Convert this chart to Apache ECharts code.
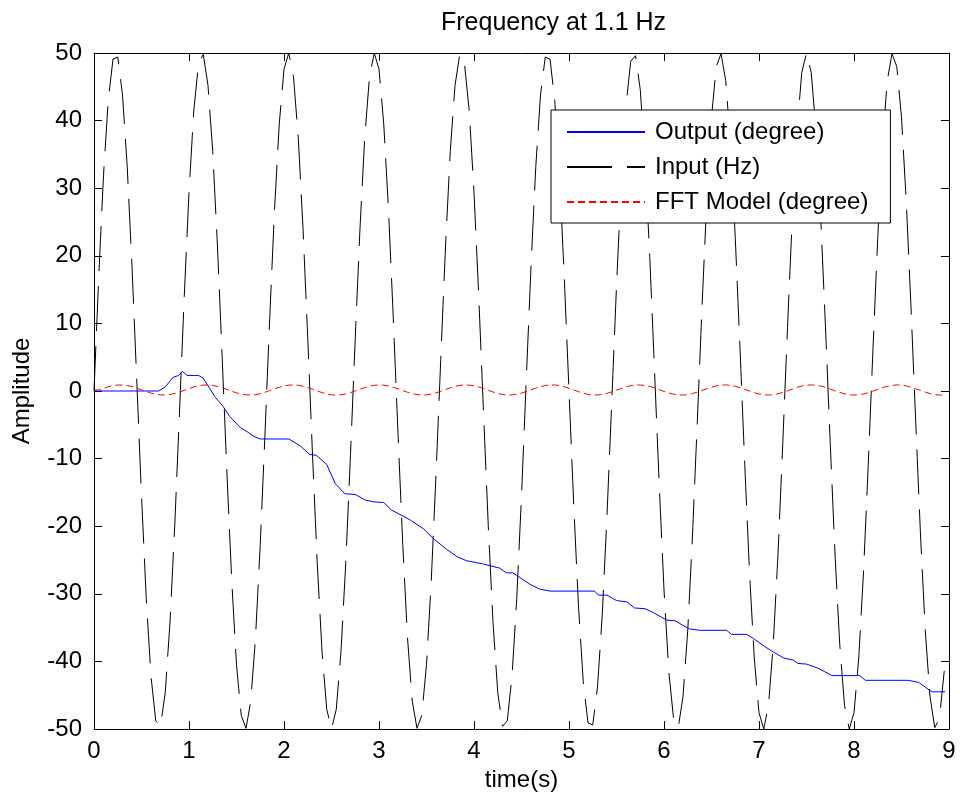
<!DOCTYPE html>
<html>
<head>
<meta charset="utf-8">
<title>Frequency at 1.1 Hz</title>
<script src="https://cdn.jsdelivr.net/npm/echarts@6/dist/echarts.min.js"></script>
<style>
  html, body { margin: 0; padding: 0; background: #fff; }
  #chart { width: 960px; height: 798px; }
</style>
</head>
<body>
<div id="chart"></div>
<script>
// sample step of the recorded signals (s)
const dt = 0.05

// input sine
const inputVals = [
  0, 16.9, 31.9, 43.0, 49.1, 49.4, 43.8, 33.1, 18.4, 1.6,
  -15.5, -30.7, -42.2, -48.8, -49.6, -44.6, -34.2, -19.9, -3.1, 14.0,
  29.4, 41.4, 48.4, 49.8, 45.2, 35.4, 21.3, 4.7, -12.4, -28.1,
  -40.5, -48.0, -49.9, -45.9, -36.5, -22.7, -6.3, 10.9, 26.8, 39.5,
  47.6, 50.0, 46.5, 37.5, 24.1, 7.8, -9.4, -25.5, -38.5, -47.1,
  -50.0, -47.1, -38.5, -25.5, -9.4, 7.8, 24.1, 37.5, 46.5, 50.0,
  47.6, 39.5, 26.8, 10.9, -6.3, -22.7, -36.5, -45.9, -49.9, -48.0,
  -40.5, -28.1, -12.4, 4.7, 21.3, 35.4, 45.2, 49.8, 48.4, 41.4,
  29.4, 14.0, -3.1, -19.9, -34.2, -44.6, -49.6, -48.8, -42.2, -30.7,
  -15.5, 1.6, 18.4, 33.1, 43.8, 49.4, 49.1, 43.0, 31.9, 16.9,
  0, -16.9, -31.9, -43.0, -49.1, -49.4, -43.8, -33.1, -18.4, -1.6,
  15.5, 30.7, 42.2, 48.8, 49.6, 44.6, 34.2, 19.9, 3.1, -14.0,
  -29.4, -41.4, -48.4, -49.8, -45.2, -35.4, -21.3, -4.7, 12.4, 28.1,
  40.5, 48.0, 49.9, 45.9, 36.5, 22.7, 6.3, -10.9, -26.8, -39.5,
  -47.6, -50.0, -46.5, -37.5, -24.1, -7.8, 9.4, 25.5, 38.5, 47.1,
  50.0, 47.1, 38.5, 25.5, 9.4, -7.8, -24.1, -37.5, -46.5, -50.0,
  -47.6, -39.5, -26.8, -10.9, 6.3, 22.7, 36.5, 45.9, 49.9, 48.0,
  40.5, 28.1, 12.4, -4.7, -21.3, -35.4, -45.2, -49.8, -48.4, -41.4
]

// FFT model, small red dashed wave around zero
const fftVals = [
  0.15, 0.15, 0.40, 0.63, 0.80, 0.89, 0.89, 0.81, 0.65, 0.43,
  0.17, -0.08, -0.31, -0.48, -0.58, -0.59, -0.52, -0.36, -0.15, 0.10,
  0.36, 0.59, 0.77, 0.88, 0.90, 0.83, 0.68, 0.47, 0.22, -0.04,
  -0.27, -0.46, -0.57, -0.60, -0.54, -0.40, -0.19, 0.06, 0.31, 0.55,
  0.74, 0.86, 0.90, 0.85, 0.71, 0.51, 0.27, 0.01, -0.23, -0.43,
  -0.56, -0.60, -0.56, -0.43, -0.23, 0.01, 0.27, 0.51, 0.71, 0.85,
  0.90, 0.86, 0.74, 0.55, 0.31, 0.06, -0.19, -0.40, -0.54, -0.60,
  -0.57, -0.46, -0.27, -0.04, 0.22, 0.47, 0.68, 0.83, 0.90, 0.88,
  0.77, 0.59, 0.36, 0.10, -0.15, -0.36, -0.52, -0.59, -0.58, -0.48,
  -0.31, -0.08, 0.17, 0.43, 0.65, 0.81, 0.89, 0.89, 0.80, 0.63,
  0.40, 0.15, -0.10, -0.33, -0.50, -0.59, -0.59, -0.51, -0.35, -0.13,
  0.13, 0.38, 0.61, 0.78, 0.88, 0.89, 0.82, 0.66, 0.45, 0.20,
  -0.06, -0.29, -0.47, -0.58, -0.60, -0.53, -0.38, -0.17, 0.08, 0.34,
  0.57, 0.76, 0.87, 0.90, 0.84, 0.70, 0.49, 0.24, -0.01, -0.25,
  -0.44, -0.56, -0.60, -0.55, -0.41, -0.21, 0.03, 0.29, 0.53, 0.73,
  0.86, 0.90, 0.86, 0.73, 0.53, 0.29, 0.03, -0.21, -0.41, -0.55,
  -0.60, -0.56, -0.44, -0.25, -0.01, 0.24, 0.49, 0.70, 0.84, 0.90,
  0.87, 0.76, 0.57, 0.34, 0.08, -0.17, -0.38, -0.53, -0.60, -0.58
]

// output (blue), corners of the stepped curve
const outputTime = [
  0, 0.68, 0.75, 0.83, 0.89, 0.93, 0.98, 1.10, 1.15, 1.27,
  1.36, 1.43, 1.54, 1.61, 1.68, 1.75, 2.05, 2.17, 2.27, 2.34,
  2.45, 2.54, 2.64, 2.75, 2.85, 2.94, 3.05, 3.13, 3.24, 3.33,
  3.47, 3.57, 3.71, 3.82, 3.92, 4.10, 4.27, 4.34, 4.41, 4.59,
  4.69, 4.80, 5.27, 5.31, 5.40, 5.50, 5.61, 5.69, 5.80, 5.89,
  6.03, 6.12, 6.19, 6.27, 6.38, 6.66, 6.71, 6.87, 6.94, 7.06,
  7.15, 7.26, 7.36, 7.41, 7.50, 7.62, 7.77, 8.06, 8.12, 8.57,
  8.68, 8.82, 8.96
]
const outputVals = [
  0, 0, 0.6, 2.0, 2.3, 2.9, 2.3, 2.3, 1.9, -0.8,
  -2.3, -3.8, -5.4, -6.0, -6.7, -7.1, -7.1, -8.1, -9.4, -9.5,
  -10.9, -13.7, -15.2, -15.3, -16.1, -16.4, -16.5, -17.6, -18.4, -19.1,
  -20.4, -21.8, -23.4, -24.5, -25.1, -25.6, -26.2, -26.9, -26.9, -28.6,
  -29.3, -29.6, -29.6, -30.2, -30.2, -31.0, -31.2, -32.1, -32.2, -32.8,
  -33.9, -34.0, -34.6, -35.2, -35.4, -35.4, -36.0, -36.0, -36.6, -37.8,
  -38.6, -39.5, -39.8, -40.3, -40.4, -41.0, -42.1, -42.1, -42.8, -42.8,
  -43.1, -44.5, -44.5
]

const font = "'Liberation Sans', Arial, sans-serif"

const toPairs = (vals) => vals.map((v, i) => [+(i * dt).toFixed(2), v])

const chart = echarts.init(document.getElementById('chart'), null, { renderer: 'canvas' })

const axisCommon = {
  type: 'value',
  splitLine: { show: false },
  axisLine: { show: true, onZero: false, lineStyle: { color: '#000', width: 1 } },
  axisTick: { show: true, inside: true, length: 8, lineStyle: { color: '#000', width: 1 } }
}

const labelStyle = { color: '#000', fontSize: 24, fontFamily: font }

chart.setOption({
  animation: false,
  backgroundColor: '#fff',
  title: {
    text: 'Frequency at 1.1 Hz',
    left: 436,
    top: 6,
    textStyle: { color: '#000', fontSize: 25, fontWeight: 'normal', fontFamily: font }
  },
  grid: { left: 94, right: 11, top: 53, bottom: 69, containLabel: false },
  xAxis: [
    Object.assign({}, axisCommon, {
      min: 0, max: 9, interval: 1, position: 'bottom',
      axisLabel: Object.assign({ margin: 10 }, labelStyle),
      name: 'time(s)', nameLocation: 'middle', nameGap: 36,
      nameTextStyle: labelStyle
    }),
    Object.assign({}, axisCommon, {
      min: 0, max: 9, interval: 1, position: 'top',
      axisLabel: { show: false }
    })
  ],
  yAxis: [
    Object.assign({}, axisCommon, {
      min: -50, max: 50, interval: 10, position: 'left',
      axisLabel: Object.assign({ margin: 12 }, labelStyle),
      name: 'Amplitude', nameLocation: 'middle', nameGap: 60,
      nameTextStyle: labelStyle
    }),
    Object.assign({}, axisCommon, {
      min: -50, max: 50, interval: 10, position: 'right',
      axisLabel: { show: false }
    })
  ],
  legend: {
    data: ['Output (degree)', 'Input (Hz)', 'FFT Model (degree)'],
    orient: 'vertical',
    left: 551,
    top: 110,
    padding: [10, 22, 9, 15],
    itemWidth: 78,
    itemHeight: 14,
    itemGap: 11,
    selectedMode: false,
    backgroundColor: '#fff',
    borderColor: '#000',
    borderWidth: 1,
    borderRadius: 0,
    itemStyle: { opacity: 0 },
    textStyle: { color: '#000', fontSize: 24, fontFamily: font, lineHeight: 24, padding: [0, 0, 0, 5] }
  },
  series: [
    {
      name: 'Input (Hz)',
      type: 'line',
      data: toPairs(inputVals),
      symbol: 'none',
      z: 1,
      lineStyle: { color: '#000', width: 1, type: [45, 15] },
      itemStyle: { color: '#000' }
    },
    {
      name: 'Output (degree)',
      type: 'line',
      data: outputTime.map((t, i) => [t, outputVals[i]]),
      symbol: 'none',
      z: 2,
      lineStyle: { color: '#0000ff', width: 1 },
      itemStyle: { color: '#0000ff' }
    },
    {
      name: 'FFT Model (degree)',
      type: 'line',
      data: toPairs(fftVals),
      symbol: 'none',
      z: 3,
      lineStyle: { color: '#ff0000', width: 1, type: [7, 4] },
      itemStyle: { color: '#ff0000' }
    }
  ]
})
</script>
</body>
</html>
